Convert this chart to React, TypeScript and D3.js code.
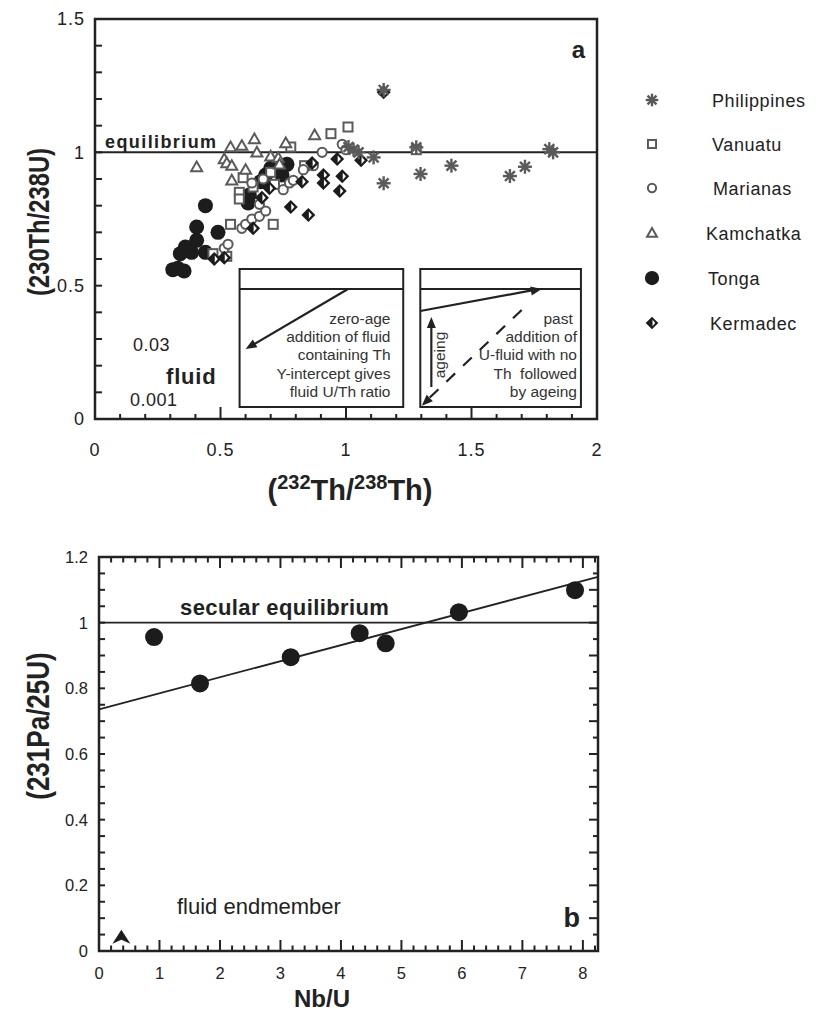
import React, { useRef, useEffect } from "react";
import * as d3 from "d3";

type Pt = [number, number];

// panel a: (232Th/238Th) vs (230Th/238U)
const philippines: Pt[] = [
  [1.15, 1.234], [1.01, 1.02], [1.05, 1.0], [1.03, 1.01], [1.11, 0.981], [1.15, 0.884],
  [1.28, 1.019], [1.297, 0.919], [1.42, 0.95], [1.653, 0.911], [1.713, 0.946],
  [1.81, 1.012], [1.825, 1.0],
];
const vanuatu: Pt[] = [
  [0.47, 0.62], [0.525, 0.61], [0.54, 0.73], [0.575, 0.85], [0.575, 0.825], [0.59, 0.905],
  [0.70, 0.925], [0.715, 0.88], [0.71, 0.73], [0.78, 1.02], [0.835, 0.95], [0.94, 1.07],
  [1.008, 1.095], [1.28, 1.01], [0.63, 0.87],
];
const marianas: Pt[] = [
  [0.515, 0.64], [0.53, 0.655], [0.585, 0.715], [0.60, 0.73], [0.625, 0.75], [0.655, 0.76],
  [0.68, 0.78], [0.655, 0.805], [0.625, 0.885], [0.67, 0.90], [0.75, 0.86], [0.775, 0.885],
  [0.79, 0.895], [0.83, 0.935], [0.87, 0.95], [0.905, 1.0], [0.985, 1.03], [1.0, 1.01],
];
const kamchatka: Pt[] = [
  [0.405, 0.945], [0.515, 0.975], [0.525, 0.96], [0.545, 0.95], [0.54, 1.02], [0.545, 0.895],
  [0.585, 1.025], [0.60, 0.935], [0.635, 1.05], [0.645, 1.0], [0.70, 0.985], [0.73, 0.98],
  [0.735, 0.955], [0.76, 1.035], [0.875, 1.065],
];
const tonga: Pt[] = [
  [0.31, 0.56], [0.33, 0.565], [0.355, 0.555], [0.34, 0.62], [0.36, 0.645], [0.385, 0.625],
  [0.44, 0.625], [0.405, 0.67], [0.405, 0.72], [0.44, 0.80], [0.49, 0.70], [0.61, 0.81],
  [0.615, 0.84], [0.66, 0.89], [0.68, 0.915], [0.70, 0.94], [0.745, 0.915], [0.765, 0.955],
];
const kermadec: Pt[] = [
  [0.475, 0.60], [0.515, 0.605], [0.63, 0.715], [0.665, 0.83], [0.695, 0.865], [0.78, 0.795],
  [0.85, 0.765], [0.825, 0.89], [0.865, 0.96], [0.91, 0.915], [0.91, 0.885], [0.965, 0.975],
  [0.985, 0.91], [0.975, 0.855], [1.06, 0.97], [1.15, 1.225],
];

const seriesNames = ["Philippines", "Vanuatu", "Marianas", "Kamchatka", "Tonga", "Kermadec"];
const seriesKinds = ["star", "square", "circle", "triangle", "dot", "diamond"];

const aXTicks = [0, 0.5, 1, 1.5, 2];
const aYTicks = [0, 0.5, 1, 1.5];
const aXTickLabels = ["0", "0.5", "1", "1.5", "2"];
const aYTickLabels = ["0", "0.5", "1", "1.5"];

const inset1Lines = ["zero-age", "addition of fluid", "containing Th", "Y-intercept gives", "fluid U/Th ratio"];
const inset2Lines = ["past ", "addition of", "U-fluid with no", "Th  followed", "by ageing"];

// panel b: Nb/U vs (231Pa/235U)
const nbU = [0.91, 1.67, 3.17, 4.31, 4.74, 5.95, 7.87];
const paU = [0.956, 0.815, 0.895, 0.968, 0.937, 1.032, 1.099];
const fitIntercept = 0.736;
const fitSlope = 0.0489;
const fluidEndmember: Pt = [0.37, 0.025];

const bXTicks = [0, 1, 2, 3, 4, 5, 6, 7, 8];
const bYTicks = [0, 0.2, 0.4, 0.6, 0.8, 1, 1.2];
const bYTickLabels = ["0", "0.2", "0.4", "0.6", "0.8", "1", "1.2"];

const FONT = "'Liberation Sans', Arial, Helvetica, sans-serif";
const GRAY = "#5a5a5a";
const BLACK = "#1c1c1c";
const INK = "#222";

type G = d3.Selection<SVGGElement, unknown, null, undefined>;

function drawSymbol(g: G, kind: string, cx: number, cy: number, s = 1) {
  if (kind === "star") {
    const r = 7 * s;
    for (let k = 0; k < 4; k++) {
      const a = (k * Math.PI) / 4;
      g.append("line")
        .attr("x1", cx - r * Math.cos(a)).attr("y1", cy - r * Math.sin(a))
        .attr("x2", cx + r * Math.cos(a)).attr("y2", cy + r * Math.sin(a))
        .attr("stroke", GRAY).attr("stroke-width", 2.4);
    }
  } else if (kind === "square") {
    const h = 4.5 * s;
    g.append("rect").attr("x", cx - h).attr("y", cy - h).attr("width", 2 * h).attr("height", 2 * h)
      .attr("fill", "white").attr("stroke", GRAY).attr("stroke-width", 2);
  } else if (kind === "circle") {
    g.append("circle").attr("cx", cx).attr("cy", cy).attr("r", 4.6 * s)
      .attr("fill", "white").attr("stroke", GRAY).attr("stroke-width", 2);
  } else if (kind === "triangle") {
    const h = 5.5 * s;
    g.append("path")
      .attr("d", `M${cx},${cy - h}L${cx + h},${cy + h * 0.75}L${cx - h},${cy + h * 0.75}Z`)
      .attr("fill", "white").attr("stroke", GRAY).attr("stroke-width", 2);
  } else if (kind === "dot") {
    g.append("circle").attr("cx", cx).attr("cy", cy).attr("r", 7.5 * s).attr("fill", BLACK);
  } else if (kind === "diamond") {
    const h = 7 * s;
    g.append("path")
      .attr("d", `M${cx},${cy - h}L${cx + h},${cy}L${cx},${cy + h}L${cx - h},${cy}Z`)
      .attr("fill", BLACK);
    g.append("path")
      .attr("d", `M${cx + 0.5},${cy - 3.6 * s}L${cx + 3.6 * s},${cy}L${cx + 0.5},${cy + 3.6 * s}Z`)
      .attr("fill", "white");
  }
}

function arrowHead(g: G, x1: number, y1: number, x2: number, y2: number, len = 11, wid = 4.5) {
  const a = Math.atan2(y2 - y1, x2 - x1);
  const bx = x2 - len * Math.cos(a);
  const by = y2 - len * Math.sin(a);
  const px = -Math.sin(a) * wid;
  const py = Math.cos(a) * wid;
  g.append("path")
    .attr("d", `M${x2},${y2}L${bx + px},${by + py}L${bx - px},${by - py}Z`)
    .attr("fill", INK);
}

const App: React.FC = () => {
  const svgRef = useRef<SVGSVGElement | null>(null);

  useEffect(() => {
    const svg = d3.select(svgRef.current);
    svg.selectAll("*").remove();
    svg.attr("width", 816).attr("height", 1013);
    const root = svg.append("g") as unknown as G;

    // ---------------- panel a ----------------
    const xA = d3.scaleLinear().domain([0, 2]).range([95, 597]);
    const yA = d3.scaleLinear().domain([0, 1.5]).range([419, 19]);
    const ga = root.append("g");

    ga.append("rect")
      .attr("x", xA(0)).attr("y", yA(1.5))
      .attr("width", xA(2) - xA(0)).attr("height", yA(0) - yA(1.5))
      .attr("fill", "none").attr("stroke", INK).attr("stroke-width", 2.5);

    d3.range(1, 20).forEach((i) => {
      const v = i / 10;
      const major = i % 5 === 0;
      ga.append("line")
        .attr("x1", xA(v)).attr("x2", xA(v))
        .attr("y1", yA(0)).attr("y2", yA(0) - (major ? 12 : 5))
        .attr("stroke", INK).attr("stroke-width", 2);
    });
    d3.range(1, 15).forEach((i) => {
      const v = i / 10;
      ga.append("line")
        .attr("x1", xA(0)).attr("x2", xA(0) + 7)
        .attr("y1", yA(v)).attr("y2", yA(v))
        .attr("stroke", INK).attr("stroke-width", 2);
    });

    ga.selectAll(".xlab").data(aXTicks).join("text")
      .attr("x", (d) => xA(d)).attr("y", 456)
      .attr("text-anchor", "middle").attr("font-family", FONT).attr("font-size", 18)
      .attr("letter-spacing", 1).attr("fill", INK)
      .text((d, i) => aXTickLabels[i]);
    ga.selectAll(".ylab").data(aYTicks).join("text")
      .attr("x", 85).attr("y", (d) => yA(d)).attr("dy", "0.36em")
      .attr("text-anchor", "end").attr("font-family", FONT).attr("font-size", 18)
      .attr("letter-spacing", 1).attr("fill", INK)
      .text((d, i) => aYTickLabels[i]);

    // equilibrium line
    ga.append("line")
      .attr("x1", xA(0)).attr("x2", xA(2)).attr("y1", yA(1)).attr("y2", yA(1))
      .attr("stroke", INK).attr("stroke-width", 2);
    ga.append("text").attr("x", xA(0.04)).attr("y", yA(1) - 4.5)
      .attr("font-family", FONT).attr("font-weight", "bold").attr("font-size", 18)
      .attr("letter-spacing", 1.4).attr("fill", INK).text("equilibrium");

    ga.append("text").attr("x", 585).attr("y", 58).attr("text-anchor", "end")
      .attr("font-family", FONT).attr("font-weight", "bold").attr("font-size", 24)
      .attr("fill", INK).text("a");

    // insets
    const insets = [
      { x0: 0.576, x1: 1.228, lines: inset1Lines, tx: 390.5 },
      { x0: 1.296, x1: 1.936, lines: inset2Lines, tx: 577 },
    ];
    insets.forEach((b) => {
      ga.append("rect")
        .attr("x", xA(b.x0)).attr("y", yA(0.5625))
        .attr("width", xA(b.x1) - xA(b.x0)).attr("height", yA(0.045) - yA(0.5625))
        .attr("fill", "white").attr("stroke", INK).attr("stroke-width", 2);
      ga.append("line")
        .attr("x1", xA(b.x0)).attr("x2", xA(b.x1)).attr("y1", yA(0.4875)).attr("y2", yA(0.4875))
        .attr("stroke", INK).attr("stroke-width", 2);
      b.lines.forEach((t, i) => {
        ga.append("text").attr("x", b.tx).attr("y", 324 + i * 18.2)
          .attr("text-anchor", "end").attr("font-family", FONT).attr("font-size", 15.5)
          .attr("fill", "#333").attr("xml:space", "preserve").style("white-space", "pre").text(t);
      });
    });
    const gi = ga as unknown as G;
    // inset 1 arrow
    ga.append("line").attr("x1", xA(1.008)).attr("y1", yA(0.4875)).attr("x2", xA(0.62)).attr("y2", yA(0.273))
      .attr("stroke", INK).attr("stroke-width", 2.2);
    arrowHead(gi, xA(1.008), yA(0.4875), xA(0.6), yA(0.2625));
    // inset 2 arrows
    ga.append("line").attr("x1", xA(1.296)).attr("y1", yA(0.405)).attr("x2", xA(1.75)).attr("y2", yA(0.484))
      .attr("stroke", INK).attr("stroke-width", 2.2);
    arrowHead(gi, xA(1.296), yA(0.405), xA(1.78), yA(0.4875));
    ga.append("line").attr("x1", xA(1.34)).attr("y1", yA(0.12)).attr("x2", xA(1.34)).attr("y2", yA(0.36))
      .attr("stroke", INK).attr("stroke-width", 2.2);
    arrowHead(gi, xA(1.34), yA(0.12), xA(1.34), yA(0.3825));
    ga.append("line").attr("x1", xA(1.70)).attr("y1", yA(0.409)).attr("x2", xA(1.32)).attr("y2", yA(0.068))
      .attr("stroke", INK).attr("stroke-width", 2.2).attr("stroke-dasharray", "12 11");
    arrowHead(gi, xA(1.70), yA(0.409), xA(1.302), yA(0.05));
    ga.append("text")
      .attr("transform", `translate(${xA(1.35) + 11},${yA(0.24)}) rotate(-90)`)
      .attr("text-anchor", "middle").attr("font-family", FONT).attr("font-size", 15.5)
      .attr("fill", "#333").text("ageing");

    // fluid labels
    ga.append("text").attr("x", 133).attr("y", 351).attr("font-family", FONT).attr("font-size", 18)
      .attr("letter-spacing", 0.5).attr("fill", INK).text("0.03");
    ga.append("text").attr("x", 166).attr("y", 384).attr("font-family", FONT).attr("font-weight", "bold")
      .attr("font-size", 22).attr("letter-spacing", 0.8).attr("fill", INK).text("fluid");
    ga.append("text").attr("x", 130).attr("y", 406).attr("font-family", FONT).attr("font-size", 18)
      .attr("letter-spacing", 0.5).attr("fill", INK).text("0.001");

    // data
    const gd = ga.append("g") as unknown as G;
    tonga.forEach((d) => drawSymbol(gd, "dot", xA(d[0]), yA(d[1])));
    vanuatu.forEach((d) => drawSymbol(gd, "square", xA(d[0]), yA(d[1])));
    marianas.forEach((d) => drawSymbol(gd, "circle", xA(d[0]), yA(d[1])));
    kamchatka.forEach((d) => drawSymbol(gd, "triangle", xA(d[0]), yA(d[1])));
    kermadec.forEach((d) => drawSymbol(gd, "diamond", xA(d[0]), yA(d[1])));
    philippines.forEach((d) => drawSymbol(gd, "star", xA(d[0]), yA(d[1])));

    // axis titles a
    const xt = ga.append("text").attr("x", 350).attr("y", 500).attr("text-anchor", "middle")
      .attr("font-family", FONT).attr("font-weight", "bold").attr("font-size", 29).attr("fill", INK);
    xt.append("tspan").text("(");
    xt.append("tspan").attr("font-size", 20).attr("dy", -11).text("232");
    xt.append("tspan").attr("dy", 11).text("Th/");
    xt.append("tspan").attr("font-size", 20).attr("dy", -11).text("238");
    xt.append("tspan").attr("dy", 11).text("Th)");
    ga.append("text")
      .attr("transform", `translate(49,222) rotate(-90) scale(0.82,1)`)
      .attr("text-anchor", "middle").attr("font-family", FONT).attr("font-weight", "bold")
      .attr("font-size", 29).attr("fill", INK).text("(230Th/238U)");

    // legend
    const legendY = [100, 144, 188, 233, 278, 323];
    const legendTX = [712, 712, 713, 706, 708, 710];
    seriesNames.forEach((name, i) => {
      drawSymbol(ga as unknown as G, seriesKinds[i], 652, legendY[i], seriesKinds[i] === "dot" ? 0.95 : 0.9);
      ga.append("text").attr("x", legendTX[i]).attr("y", legendY[i] + 6.5)
        .attr("font-family", FONT).attr("font-size", 18).attr("letter-spacing", 0.6)
        .attr("fill", INK).text(name);
    });

    // ---------------- panel b ----------------
    const xB = d3.scaleLinear().domain([0, 8.25]).range([99, 598]);
    const yB = d3.scaleLinear().domain([0, 1.2]).range([951, 557]);
    const gb = root.append("g");

    gb.append("rect")
      .attr("x", xB(0)).attr("y", yB(1.2))
      .attr("width", xB(8.25) - xB(0)).attr("height", yB(0) - yB(1.2))
      .attr("fill", "none").attr("stroke", INK).attr("stroke-width", 2.5);

    d3.range(1, 42).forEach((i) => {
      const v = i / 5;
      const major = i % 5 === 0;
      const len = major ? 11 : 5.5;
      gb.append("line").attr("x1", xB(v)).attr("x2", xB(v))
        .attr("y1", yB(0)).attr("y2", yB(0) - len).attr("stroke", INK).attr("stroke-width", 2);
      gb.append("line").attr("x1", xB(v)).attr("x2", xB(v))
        .attr("y1", yB(1.2)).attr("y2", yB(1.2) + len).attr("stroke", INK).attr("stroke-width", 2);
    });
    d3.range(1, 24).forEach((i) => {
      const v = i / 20;
      gb.append("line").attr("x1", xB(0)).attr("x2", xB(0) + 6)
        .attr("y1", yB(v)).attr("y2", yB(v)).attr("stroke", INK).attr("stroke-width", 2);
      gb.append("line").attr("x1", xB(8.25)).attr("x2", xB(8.25) - (i % 2 === 0 ? 9 : 5))
        .attr("y1", yB(v)).attr("y2", yB(v)).attr("stroke", INK).attr("stroke-width", 2);
    });

    gb.selectAll(".bxl").data(bXTicks).join("text")
      .attr("x", (d) => xB(d)).attr("y", 979).attr("text-anchor", "middle")
      .attr("font-family", FONT).attr("font-size", 16.5).attr("fill", INK).text((d) => String(d));
    gb.selectAll(".byl").data(bYTicks).join("text")
      .attr("x", 88).attr("y", (d) => yB(d)).attr("dy", "0.36em").attr("text-anchor", "end")
      .attr("font-family", FONT).attr("font-size", 16.5).attr("fill", INK)
      .text((d, i) => bYTickLabels[i]);

    gb.append("line").attr("x1", xB(0)).attr("x2", xB(8.25)).attr("y1", yB(1)).attr("y2", yB(1))
      .attr("stroke", INK).attr("stroke-width", 1.8);
    gb.append("line")
      .attr("x1", xB(0)).attr("y1", yB(fitIntercept))
      .attr("x2", xB(8.25)).attr("y2", yB(fitIntercept + fitSlope * 8.25))
      .attr("stroke", INK).attr("stroke-width", 1.8);

    gb.selectAll(".pt").data(nbU).join("circle")
      .attr("cx", (d) => xB(d)).attr("cy", (d, i) => yB(paU[i])).attr("r", 9).attr("fill", BLACK);

    gb.append("text").attr("x", 180).attr("y", 615).attr("font-family", FONT).attr("font-weight", "bold")
      .attr("font-size", 22).attr("letter-spacing", 0.4).attr("fill", INK).text("secular equilibrium");
    gb.append("text").attr("x", 177).attr("y", 914).attr("font-family", FONT)
      .attr("font-size", 22).attr("fill", INK).text("fluid endmember");
    gb.append("text").attr("x", 580).attr("y", 927).attr("text-anchor", "end").attr("font-family", FONT)
      .attr("font-weight", "bold").attr("font-size", 27).attr("fill", INK).text("b");

    // fluid endmember arrowhead marker
    const ex = xB(fluidEndmember[0]);
    const ey = yB(fluidEndmember[1]);
    gb.append("path")
      .attr("d", `M${ex},${ey - 13}L${ex + 9},${ey + 1}L${ex},${ey - 3}L${ex - 9},${ey + 1}Z`)
      .attr("fill", BLACK);

    gb.append("text").attr("x", 322).attr("y", 1007).attr("text-anchor", "middle")
      .attr("font-family", FONT).attr("font-weight", "bold").attr("font-size", 24)
      .attr("fill", INK).text("Nb/U");
    gb.append("text")
      .attr("transform", `translate(49,726) rotate(-90) scale(0.84,1)`)
      .attr("text-anchor", "middle").attr("font-family", FONT).attr("font-weight", "bold")
      .attr("font-size", 31).attr("fill", INK).text("(231Pa/25U)");
  }, []);

  return (
    <div style={{ position: "absolute", left: 0, top: 0, background: "white" }}>
      <svg ref={svgRef} style={{ display: "block" }}></svg>
    </div>
  );
};

export default App;
